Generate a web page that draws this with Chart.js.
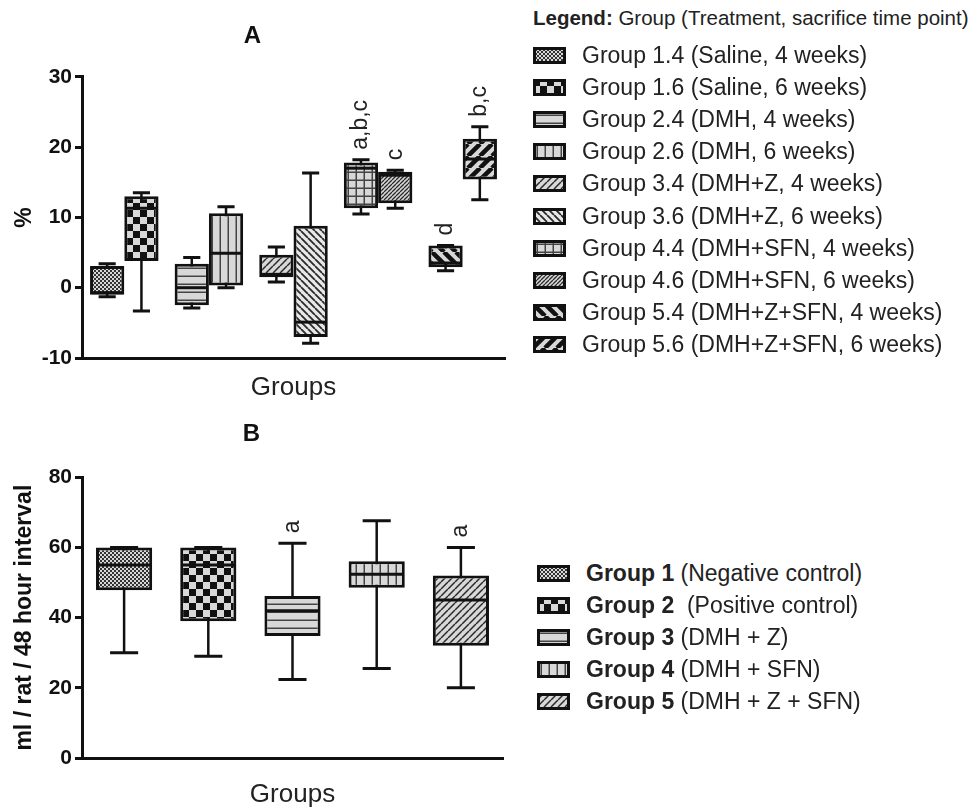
<!DOCTYPE html>
<html>
<head>
<meta charset="utf-8">
<script src="https://cdn.jsdelivr.net/npm/chart.js@4.4.1/dist/chart.umd.min.js"></script>
<style>
  body { margin: 0; background: #fff; width: 977px; height: 812px; position: relative; overflow: hidden;
         font-family: 'Liberation Sans', Arial, sans-serif; color: #222; }
  canvas.chart { position: absolute; left: 0; }
  #chartA { top: 0; }
  #chartB { top: 400px; }
  .row { position: absolute; height: 32px; display: flex; align-items: center; white-space: pre; font-size: 23px; }
  .row canvas { margin-right: 16px; }
  .head { position: absolute; left: 533px; top: 6px; font-size: 20.5px; white-space: pre; }
</style>
</head>
<body>
<canvas id="chartA" class="chart" width="520" height="410"></canvas>
<canvas id="chartB" class="chart" width="520" height="412"></canvas>
<div class="head"><b>Legend:</b> Group (Treatment, sacrifice time point)</div>
<div id="legendA"></div>
<div id="legendB"></div>
<script>
// ---- panel A data (% change), 4 and 6 week boxes per group ----
const groupsA = ['Group 1', 'Group 2', 'Group 3', 'Group 4', 'Group 5'];
const minA4 = [-1.3, -2.9, 0.8, 10.5, 2.4];
const q1A4  = [-1.0, -2.5, 1.5, 11.3, 2.9];
const medA4 = [-0.7, 0.0, 1.9, 17.0, 3.5];
const q3A4  = [3.1, 3.4, 4.7, 17.8, 6.0];
const maxA4 = [3.4, 4.3, 5.8, 18.2, 6.0];
const notesA4 = ['', '', '', 'a,b,c', 'd'];

const minA6 = [-3.3, 0.0, -7.9, 11.3, 12.5];
const q1A6  = [3.8, 0.3, -7.0, 12.0, 15.4];
const medA6 = [11.3, 4.9, -4.9, 16.0, 18.3];
const q3A6  = [13.0, 10.6, 8.8, 16.5, 21.2];
const maxA6 = [13.5, 11.5, 16.3, 16.7, 22.9];
const notesA6 = ['', '', '', 'c', 'b,c'];

const namesA = ['Group 1.4 (Saline, 4 weeks)', 'Group 1.6 (Saline, 6 weeks)', 'Group 2.4 (DMH, 4 weeks)',
  'Group 2.6 (DMH, 6 weeks)', 'Group 3.4 (DMH+Z, 4 weeks)', 'Group 3.6 (DMH+Z, 6 weeks)',
  'Group 4.4 (DMH+SFN, 4 weeks)', 'Group 4.6 (DMH+SFN, 6 weeks)', 'Group 5.4 (DMH+Z+SFN, 4 weeks)',
  'Group 5.6 (DMH+Z+SFN, 6 weeks)'];
const fillsA4 = ['dots', 'hlines', 'diagR', 'grid', 'thickL'];
const fillsA6 = ['checker', 'vlines', 'diagL', 'diagDense', 'thickR'];
const yTicksA = [-10, 0, 10, 20, 30];

// ---- panel B data (ml / rat / 48 hour interval) ----
const groupsB = ['Group 1', 'Group 2', 'Group 3', 'Group 4', 'Group 5'];
const descB = ['(Negative control)', ' (Positive control)', '(DMH + Z)', '(DMH + SFN)', '(DMH + Z + SFN)'];
const minB = [30, 29, 22.4, 25.5, 20];
const q1B  = [47.8, 39, 34.8, 48.5, 32];
const medB = [55, 55, 42, 52.4, 45];
const q3B  = [60, 60, 46.2, 56.1, 52];
const maxB = [60, 60, 61.2, 67.6, 60];
const notesB = ['', '', 'a', '', 'a'];
const fillsB = ['dots', 'checker', 'hlines', 'vlines', 'diagR'];
const yTicksB = [0, 20, 40, 60, 80];

const INK = '#111';
Chart.defaults.font.family = "'Liberation Sans', Arial, sans-serif";
Chart.defaults.color = '#222';

// hatch tiles
function tile(kind) {
  const c = document.createElement('canvas');
  const sizes = {dots: 4, checker: 14, hlines: 8, vlines: 8, grid: 8, diagR: 7, diagL: 7, diagDense: 4, thickL: 12, thickR: 12};
  const s = sizes[kind];
  c.width = s; c.height = s;
  const g = c.getContext('2d');
  g.fillStyle = kind === 'diagL' ? '#e8e8e8' : '#d8d8d8';
  g.fillRect(0, 0, s, s);
  g.strokeStyle = '#333';
  if (kind === 'dots') {
    g.fillStyle = '#333';
    g.fillRect(0, 0, 2, 2); g.fillRect(2, 2, 2, 2);
  } else if (kind === 'checker') {
    g.fillStyle = INK;
    g.fillRect(0, 0, 7, 7); g.fillRect(7, 7, 7, 7);
  } else if (kind === 'hlines' || kind === 'vlines' || kind === 'grid') {
    g.fillStyle = '#444';
    if (kind !== 'vlines') g.fillRect(0, 3.5, s, 1.5);
    if (kind !== 'hlines') g.fillRect(3.5, 0, 1.5, s);
  } else {
    const widths = {diagR: 1.5, diagL: 1.8, diagDense: 1.3, thickL: 4.5, thickR: 4.5};
    g.lineWidth = widths[kind];
    g.strokeStyle = kind.startsWith('thick') ? INK : '#2a2a2a';
    const rising = kind === 'diagR' || kind === 'diagDense' || kind === 'thickR';
    g.beginPath();
    for (let k = -1; k <= 1; k++) {
      if (rising) { g.moveTo(k * s, s); g.lineTo(k * s + s, 0); }
      else { g.moveTo(k * s, 0); g.lineTo(k * s + s, s); }
    }
    g.stroke();
  }
  return c;
}
const pat = (ctx, kind) => ctx.createPattern(tile(kind), 'repeat');

// whiskers behind the boxes, medians and letters on top
const boxPlugin = {
  id: 'boxWhiskers',
  beforeDatasetsDraw(chart) {
    const {ctx, scales: {y}} = chart;
    chart.data.datasets.forEach((ds, di) => {
      chart.getDatasetMeta(di).data.forEach((bar, i) => {
        const half = bar.width / 4;
        const top = y.getPixelForValue(ds.whiskerMax[i]);
        const bot = y.getPixelForValue(ds.whiskerMin[i]);
        ctx.save();
        ctx.strokeStyle = INK;
        ctx.lineWidth = 2.5;
        ctx.beginPath();
        ctx.moveTo(bar.x, top); ctx.lineTo(bar.x, bot);
        ctx.stroke();
        ctx.lineWidth = 3;
        ctx.beginPath();
        ctx.moveTo(bar.x - half, top); ctx.lineTo(bar.x + half, top);
        ctx.moveTo(bar.x - half, bot); ctx.lineTo(bar.x + half, bot);
        ctx.stroke();
        ctx.restore();
      });
    });
  },
  afterDatasetsDraw(chart) {
    const {ctx, scales: {y}} = chart;
    chart.data.datasets.forEach((ds, di) => {
      chart.getDatasetMeta(di).data.forEach((bar, i) => {
        const m = y.getPixelForValue(ds.median[i]);
        ctx.save();
        ctx.strokeStyle = INK;
        ctx.lineWidth = 3;
        ctx.beginPath();
        ctx.moveTo(bar.x - bar.width / 2 + 1.5, m); ctx.lineTo(bar.x + bar.width / 2 - 1.5, m);
        ctx.stroke();
        const note = ds.notes[i];
        if (note) {
          ctx.translate(bar.x, y.getPixelForValue(ds.whiskerMax[i]) - 10);
          ctx.rotate(-Math.PI / 2);
          ctx.font = "23px 'Liberation Sans', Arial, sans-serif";
          ctx.fillStyle = '#222';
          ctx.textAlign = 'left';
          ctx.textBaseline = 'middle';
          ctx.fillText(note, 0, 0);
        }
        ctx.restore();
      });
    });
  }
};

function axes(yMin, yMax, yTicks, yTitle, yTitlePad, xHeight, xPadBottom) {
  return {
    x: {
      grid: {display: false},
      border: {display: true, width: 3, color: INK},
      ticks: {display: false},
      title: {display: true, text: 'Groups', font: {size: 26}, color: '#222', padding: {top: 0, bottom: xPadBottom}},
      afterFit: s => { s.height = xHeight; }
    },
    y: {
      min: yMin, max: yMax,
      afterBuildTicks: s => { s.ticks = yTicks.map(v => ({value: v})); },
      ticks: {font: {size: 21, weight: 'bold'}, color: INK, padding: 3},
      grid: {drawOnChartArea: false, tickLength: 7, tickWidth: 3, tickColor: INK},
      border: {width: 3, color: INK},
      title: {display: true, text: yTitle, font: {size: 23, weight: 'bold'}, color: INK, padding: {top: yTitlePad}},
      afterFit: s => { s.width = 82; }
    }
  };
}

const ctxA = document.getElementById('chartA').getContext('2d');
new Chart(ctxA, {
  type: 'bar',
  data: {
    labels: groupsA,
    datasets: [
      {label: '4 weeks', data: groupsA.map((_, i) => [q1A4[i], q3A4[i]]),
       backgroundColor: fillsA4.map(k => pat(ctxA, k)),
       whiskerMin: minA4, whiskerMax: maxA4, median: medA4, notes: notesA4},
      {label: '6 weeks', data: groupsA.map((_, i) => [q1A6[i], q3A6[i]]),
       backgroundColor: fillsA6.map(k => pat(ctxA, k)),
       whiskerMin: minA6, whiskerMax: maxA6, median: medA6, notes: notesA6}
    ]
  },
  options: {
    responsive: false,
    animation: false,
    layout: {padding: {left: 0, right: 15, top: 0, bottom: 0}},
    datasets: {bar: {categoryPercentage: 0.81, barPercentage: 1, borderColor: INK, borderWidth: 3, borderSkipped: false}},
    plugins: {
      legend: {display: false},
      tooltip: {enabled: false},
      title: {display: true, text: 'A', font: {size: 24, weight: 'bold'}, color: INK, padding: {top: 22, bottom: 26}}
    },
    scales: axes(-10, 30, yTicksA, '%', 11, 52, 6.4)
  },
  plugins: [boxPlugin]
});

const ctxB = document.getElementById('chartB').getContext('2d');
new Chart(ctxB, {
  type: 'bar',
  data: {
    labels: groupsB,
    datasets: [
      {label: 'B', data: groupsB.map((_, i) => [q1B[i], q3B[i]]),
       backgroundColor: fillsB.map(k => pat(ctxB, k)),
       whiskerMin: minB, whiskerMax: maxB, median: medB, notes: notesB}
    ]
  },
  options: {
    responsive: false,
    animation: false,
    layout: {padding: {left: 0, right: 17, top: 0, bottom: 0}},
    datasets: {bar: {categoryPercentage: 1, barPercentage: 0.667, borderColor: INK, borderWidth: 3, borderSkipped: false}},
    plugins: {
      legend: {display: false},
      tooltip: {enabled: false},
      title: {display: true, text: 'B', font: {size: 24, weight: 'bold'}, color: INK, padding: {top: 20, bottom: 28.5}}
    },
    scales: axes(0, 80, yTicksB, 'ml / rat / 48 hour interval', 11, 54, 1.4)
  },
  plugins: [boxPlugin]
});

// html legends with the same hatches
function swatch(kind, w, h) {
  const c = document.createElement('canvas');
  c.width = w; c.height = h;
  const g = c.getContext('2d');
  g.fillStyle = pat(g, kind);
  g.fillRect(0, 0, w, h);
  g.strokeStyle = INK;
  g.lineWidth = 3;
  g.strokeRect(1.5, 1.5, w - 3, h - 3);
  return c;
}
function addRow(parent, left, centerY, kind, html) {
  const row = document.createElement('div');
  row.className = 'row';
  row.style.left = left + 'px';
  row.style.top = (centerY - 16) + 'px';
  row.appendChild(swatch(kind, 33, 17));
  const span = document.createElement('span');
  span.innerHTML = html;
  row.appendChild(span);
  parent.appendChild(row);
}
const fillsLegendA = [];
fillsA4.forEach((k, i) => { fillsLegendA.push(k, fillsA6[i]); });
namesA.forEach((name, i) => addRow(document.getElementById('legendA'), 533, 55 + 32.2 * i, fillsLegendA[i], name));
groupsB.forEach((name, i) => addRow(document.getElementById('legendB'), 537, 573 + 32.2 * i, fillsB[i],
  '<b>' + name + '</b> ' + descB[i]));
</script>
</body>
</html>
